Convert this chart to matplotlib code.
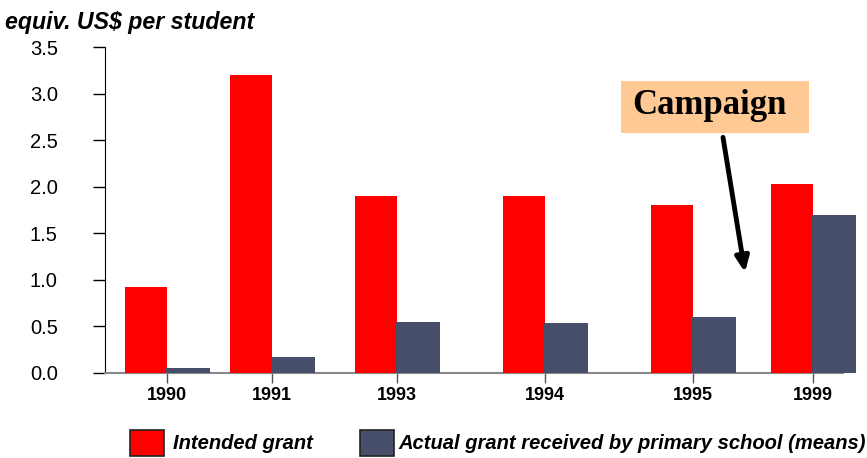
import matplotlib.pyplot as plt
from matplotlib.patches import Rectangle

years = ['1990', '1991', '1993', '1994', '1995', '1999']
intended = [0.92, 3.2, 1.9, 1.9, 1.8, 2.03]
actual = [0.05, 0.17, 0.55, 0.54, 0.6, 1.7]

# uneven group spacing as in the original slide
xpos = [0.62, 1.67, 2.92, 4.40, 5.88, 7.08]
w = 0.42
red = '#ff0000'
gray = '#464e69'
W, H = 867, 458

fig = plt.figure(figsize=(8.67, 4.58), dpi=100)
ax = fig.add_axes([105/W, 85/H, 755/W, 326/H])

ax.bar([x - w/2 for x in xpos], intended, width=w, color=red, zorder=3)
ax.bar([x + w/2 for x in xpos], actual, width=w + 0.02, color=gray, zorder=3)

ax.set_xlim(0, 7.55)
ax.set_ylim(0, 3.5)
ax.set_yticks([0, 0.5, 1, 1.5, 2, 2.5, 3, 3.5])
ax.set_yticklabels(['0.0', '0.5', '1.0', '1.5', '2.0', '2.5', '3.0', '3.5'],
                   fontsize=14.5, family='Liberation Sans')
ax.tick_params(axis='y', length=9, width=1, pad=25)
ax.set_xticks(xpos)
ax.set_xticklabels(years, fontsize=13, fontweight='bold', family='Liberation Sans')
ax.tick_params(axis='x', length=7, width=1, color='#555555', pad=3)

ax.spines['top'].set_visible(False)
ax.spines['right'].set_visible(False)
ax.spines['bottom'].set_color('#888888')
ax.spines['bottom'].set_linewidth(1.5)
ax.spines['bottom'].set_bounds(0, 7.38)

fig.text(5/W, 1 - 29/H, 'equiv. US$ per student', fontsize=16.7, fontweight='bold',
         fontstyle='italic', family='Liberation Sans', va='baseline', ha='left')

# campaign annotation
fig.patches.append(Rectangle((621/W, 1 - 133/H), 188/W, 52/H, transform=fig.transFigure,
                             fc='#ffc995', ec='none', zorder=1))
fig.text(709/W, 1 - 106/H, 'Campaign', fontsize=25, fontweight='bold',
         family='Liberation Serif', ha='center', va='center', zorder=2)
ax.annotate('', xy=(6.40, 1.08), xytext=(6.18, 2.53),
            arrowprops=dict(arrowstyle='-|>,head_width=0.4,head_length=0.9',
                            color='black', lw=3.5, shrinkA=0, shrinkB=0))

# legend drawn by hand to keep the slide spacing
leg = [(130, red, 173, 'Intended grant'),
       (360, gray, 398, 'Actual grant received by primary school (means)')]
for x0, c, tx, label in leg:
    fig.patches.append(Rectangle((x0/W, 1 - 456/H), 34/W, 26/H, transform=fig.transFigure,
                                 fc=c, ec='#222222', lw=1.2))
    fig.text(tx/W, 1 - 449/H, label, fontsize=14.5, fontweight='bold', fontstyle='italic',
             family='Liberation Sans', va='baseline', ha='left')

fig.savefig('out.png', dpi=100)
